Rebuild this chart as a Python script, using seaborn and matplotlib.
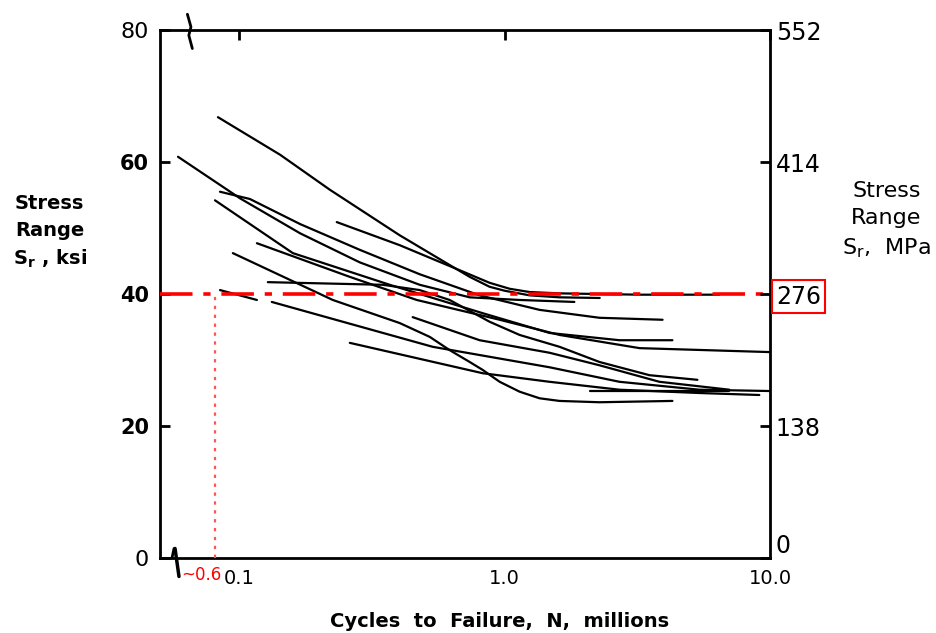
import numpy as np
import pandas as pd
import seaborn as sns
import matplotlib
matplotlib.use("Agg")
from matplotlib import pyplot as plt

# S-N curves: N in millions of cycles, S in ksi
curves = {
    "c1": ([0.0834, 0.143, 0.220, 0.403, 0.621, 0.739, 0.878, 1.0, 1.242, 1.61, 2.28],
           [66.8, 61.1, 55.8, 48.9, 44.4, 42.6, 41.1, 40.5, 39.8, 39.5, 39.4]),
    "c2": ([0.059, 0.101, 0.170, 0.285, 0.479, 0.739, 1.14, 1.83],
           [60.8, 54.5, 49.2, 44.8, 41.4, 39.5, 39.1, 38.8]),
    "c3": ([0.0849, 0.110, 0.170, 0.285, 0.479, 0.805, 1.354, 2.276, 3.93],
           [55.5, 54.4, 50.6, 46.7, 43.0, 39.8, 37.6, 36.4, 36.1]),
    "c4": ([0.0813, 0.1596, 0.3695, 0.8266, 1.476, 2.706, 4.281],
           [54.2, 46.2, 41.4, 37.1, 34.1, 33.0, 33.0]),
    "c5": ([0.2335, 0.403, 0.678, 0.878, 1.044, 1.242, 1.61, 3.22, 6.43],
           [50.9, 47.4, 43.6, 41.7, 40.8, 40.3, 40.1, 39.9, 39.9]),
    "c6": ([0.1169, 0.2615, 0.4669, 0.958, 1.61, 3.22, 10.0],
           [47.7, 42.6, 39.1, 36.1, 33.8, 31.8, 31.2]),
    "c7": ([0.0949, 0.2256, 0.403, 0.523, 0.621, 0.739, 0.827, 0.958, 1.139,
            1.354, 1.61, 2.276, 4.281],
           [46.2, 39.1, 35.6, 33.5, 31.5, 29.7, 28.5, 26.7, 25.2,
            24.2, 23.8, 23.6, 23.8]),
    "c8": ([0.1285, 0.3477, 0.479, 0.621, 0.878, 1.139, 1.61, 2.276, 3.509, 5.317],
           [41.8, 41.4, 40.6, 39.1, 35.8, 33.8, 32.0, 29.7, 27.7, 27.0]),
    "c9a": ([0.0849, 0.1169], [40.6, 39.1]),
    "c9b": ([0.133, 0.5363, 1.476, 2.706, 5.409, 10.0],
            [38.8, 32.0, 28.9, 26.7, 25.5, 25.3]),
    "c10": ([0.2615, 0.8266, 1.476, 2.706, 5.409, 9.09],
            [32.6, 28.0, 26.7, 25.5, 25.0, 24.7]),
    "c11": ([0.4509, 0.8054, 1.476, 2.276, 3.825, 7.014],
            [36.5, 33.0, 31.1, 29.2, 26.7, 25.5]),
    "c12": ([2.087, 7.014], [25.3, 25.3]),
}

ksi_ticks = [0, 20, 40, 60, 80]
mpa_ticks = [0, 138, 276, 414, 552]
n_ticks = [0.1, 1.0, 10.0]
n_labels = ["0.1", "1.0", "10.0"]
limit_ksi = 40
limit_n = 0.0813

rows = []
for name, (n, s) in curves.items():
    for a, b in zip(n, s):
        rows.append((name, a, b))
df = pd.DataFrame(rows, columns=["curve", "N", "S"])

sns.set_style("white", {"text.color": "black", "xtick.color": "black",
                        "ytick.color": "black", "axes.labelcolor": "black"})
plt.rcParams["font.family"] = ["DejaVu Sans"]

fig = plt.figure(figsize=(9.36, 6.33), dpi=100)
ax = fig.add_axes([0.171, 0.1185, 0.652, 0.834])

sns.lineplot(data=df, x="N", y="S", units="curve", estimator=None,
             sort=False, color="black", lw=1.6, ax=ax, legend=False)

ax.set_xscale("log")
ax.set_xlim(0.0505, 10.0)
ax.set_ylim(0, 80)
ax.minorticks_off()
ax.set_xticks(n_ticks)
ax.set_xticklabels(n_labels, fontsize=14)
ax.set_yticks(ksi_ticks)
ylabs = ax.set_yticklabels([str(t) for t in ksi_ticks], fontsize=15)
for lab in ylabs[1:4]:
    lab.set_fontweight("bold")
ylabs[0].set_fontsize(16)
ylabs[4].set_fontsize(16)
ax.tick_params(axis="both", direction="in", length=7, width=2,
               top=True, pad=8)
ax.set_xlabel("")
ax.set_ylabel("")
for sp in ax.spines.values():
    sp.set_linewidth(2)
    sp.set_color("black")

# limit lines
ax.axhline(limit_ksi, color="red", lw=2.6, ls=(0, (9, 3, 2, 3)), zorder=5)
ax.plot([limit_n, limit_n], [0, limit_ksi], color="#ff5555", lw=1.6,
        ls=(0, (1.5, 2.5)), zorder=5)
ax.text(0.072, -0.033, "~0.6", color="red", fontsize=12, ha="center",
        va="center", transform=ax.get_xaxis_transform())

# axis break marks
tx = ax.get_xaxis_transform()
ax.plot([0.0640, 0.0660, 0.0648, 0.0668], [1.03, 1.006, 0.99, 0.965],
        color="black", lw=2, transform=tx, clip_on=False)
ax.plot([0.0560, 0.0570], [0.0, 0.018], color="black", lw=2,
        transform=tx, clip_on=False)
ax.plot([0.0575, 0.0595], [0.018, -0.035], color="black", lw=2.5,
        transform=tx, clip_on=False)

ax2 = ax.twinx()
ax2.set_ylim(0, 552)
ax2.set_yticks(mpa_ticks)
labs = ax2.set_yticklabels([str(t) for t in mpa_ticks], fontsize=17)
ax2.tick_params(axis="y", direction="in", length=7, width=2, pad=4)
labs[0].set_va("bottom")
labs[2].set_bbox(dict(facecolor="none", edgecolor="red", lw=1.5, pad=3))
for sp in ax2.spines.values():
    sp.set_visible(False)

fig.text(0.053, 0.633, "Stress\nRange\nS$_\\mathregular{r}$ , ksi",
         fontsize=14, fontweight="bold", ha="center", va="center",
         linespacing=1.5)
fig.text(0.947, 0.652, "Stress\nRange\nS$_\\mathregular{r}$,  MPa",
         fontsize=16, ha="center", va="center", linespacing=1.45)
fig.text(0.534, 0.018, "Cycles  to  Failure,  N,  millions", fontsize=14,
         fontweight="bold", ha="center", va="center")

fig.savefig("out.png", dpi=100)
